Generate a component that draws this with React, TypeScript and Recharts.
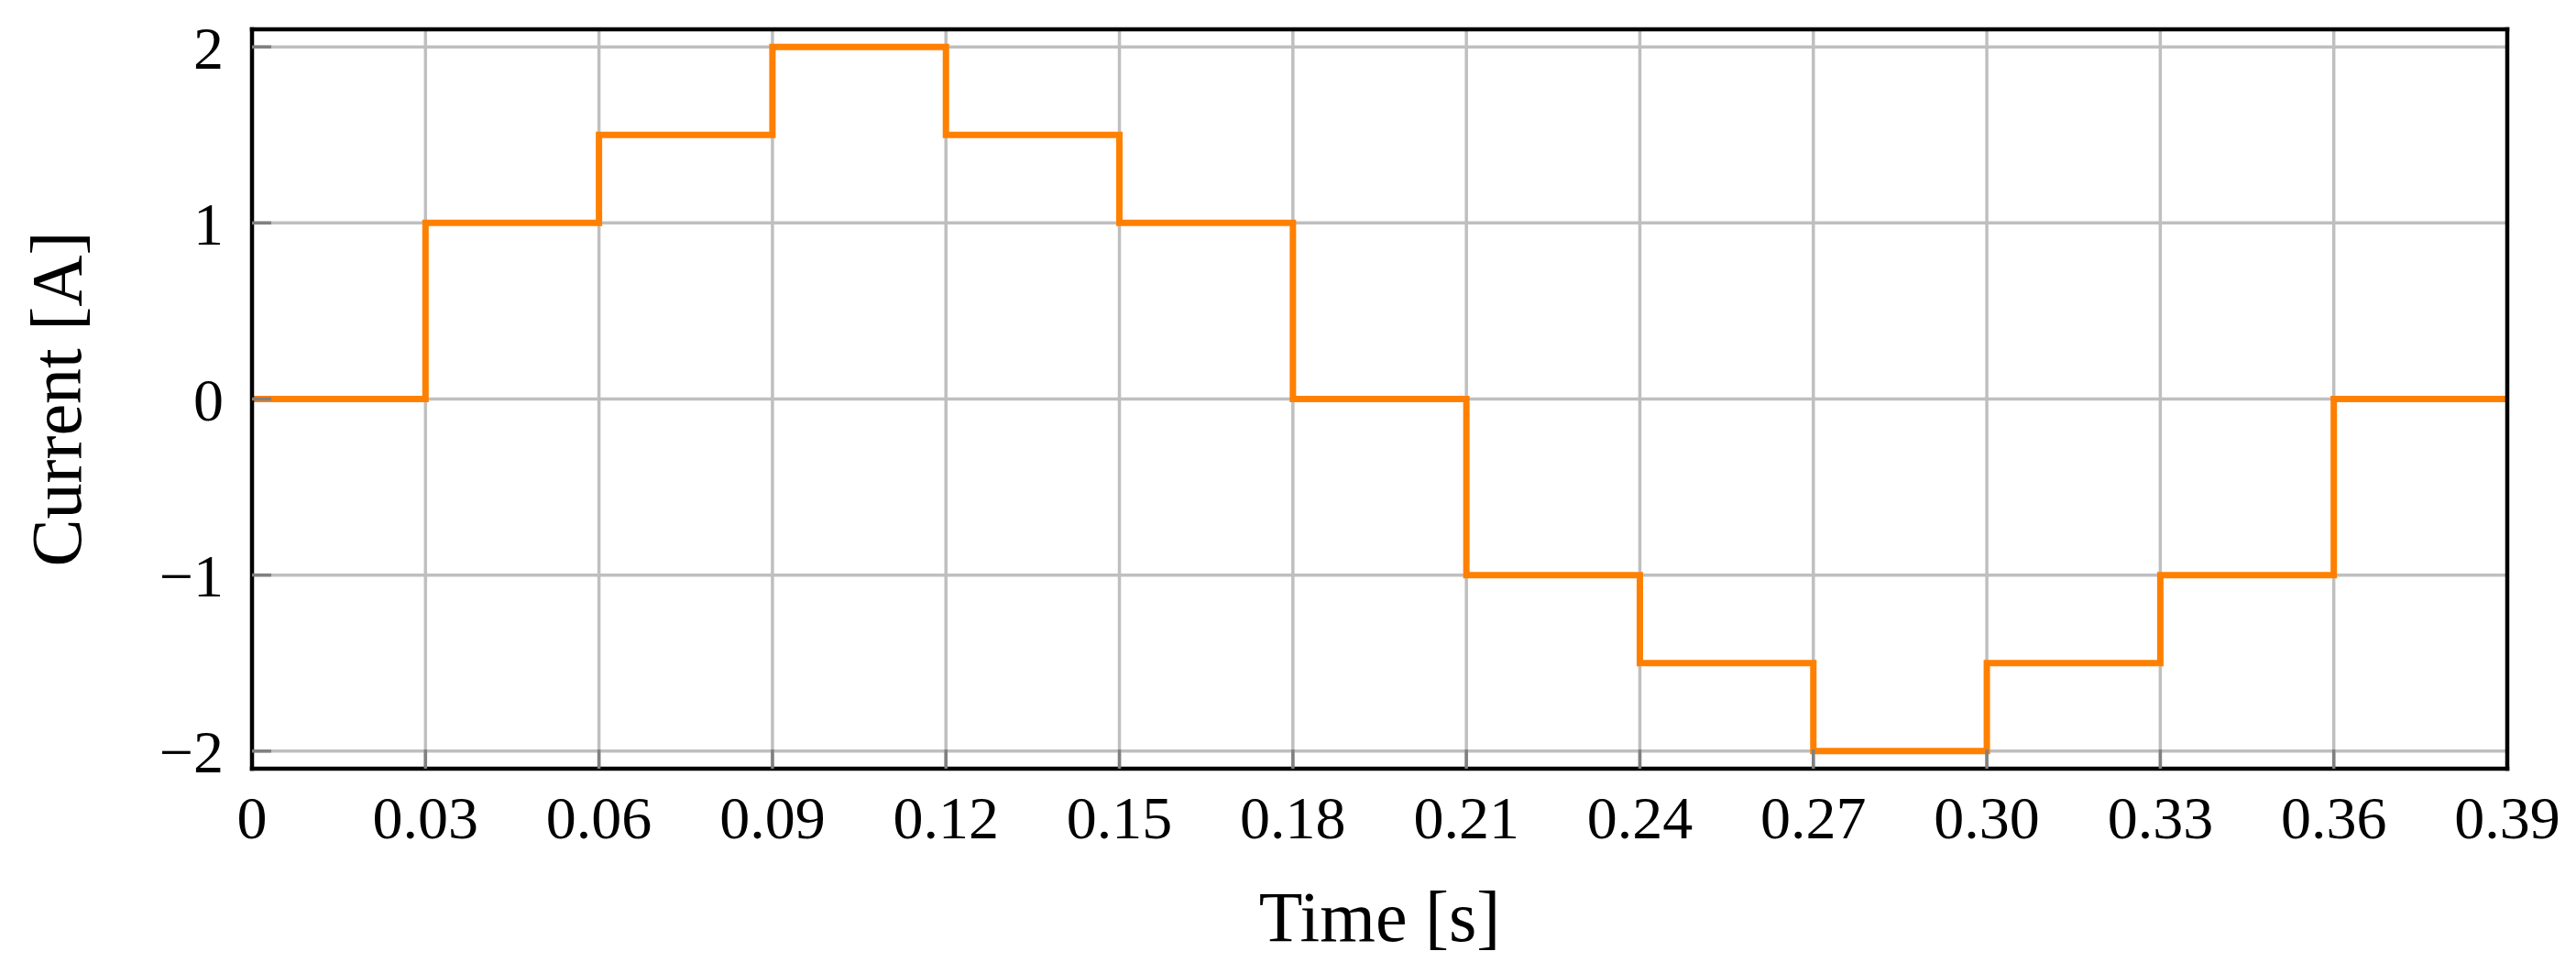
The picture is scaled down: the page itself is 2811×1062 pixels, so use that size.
import { LineChart, Line, XAxis, YAxis, CartesianGrid } from 'recharts';

// step current waveform, value holds from each time to the next
const times = [0, 0.03, 0.06, 0.09, 0.12, 0.15, 0.18, 0.21, 0.24, 0.27, 0.3, 0.33, 0.36, 0.39];
const currents = [0, 1, 1.5, 2, 1.5, 1, 0, -1, -1.5, -2, -1.5, -1, 0, 0];

const xTicks = [0, 0.03, 0.06, 0.09, 0.12, 0.15, 0.18, 0.21, 0.24, 0.27, 0.3, 0.33, 0.36, 0.39];
const xTickLabels = ['0', '0.03', '0.06', '0.09', '0.12', '0.15', '0.18', '0.21', '0.24', '0.27', '0.30', '0.33', '0.36', '0.39'];
const yTicks = [-2, -1, 0, 1, 2];
const yTickLabels = ['\u22122', '\u22121', '0', '1', '2'];

const W = 2811;
const H = 1062;
const FONT = "'Liberation Serif', 'DejaVu Serif', serif";

const frame = { stroke: '#000', strokeWidth: 4.5, strokeLinecap: 'square' as const };
const tickMark = { stroke: '#808080', strokeWidth: 3.5 };
const tickText = { fontSize: 66, fill: '#000', fontFamily: FONT };

export default function App() {
  const data = times.map((t, i) => ({ t, current: currents[i] }));

  const xLabel = (props: any) => {
    const vb = props?.viewBox || { x: 275, y: 839, width: 2461, height: 223 };
    return (
      <text x={vb.x + vb.width / 2} y={vb.y + vb.height - 35} textAnchor="middle"
        fontSize={78} fontFamily={FONT} fill="#000">
        Time [s]
      </text>
    );
  };

  const yLabel = (props: any) => {
    const vb = props?.viewBox || { x: 0, y: 32, width: 275, height: 807 };
    const cx = 61;
    const cy = vb.y + vb.height / 2;
    return (
      <text x={cx} y={cy} transform={`rotate(-90, ${cx}, ${cy})`} textAnchor="middle"
        dominantBaseline="central" fontSize={78} fontFamily={FONT} fill="#000">
        Current [A]
      </text>
    );
  };

  return (
    <div style={{ position: 'absolute', left: 0, top: 0, width: W, height: H, background: '#fff', fontFamily: FONT }}>
      <LineChart width={W} height={H} data={data} margin={{ top: 31, right: 74, bottom: 0, left: 0 }}>
        <CartesianGrid xAxisId="bottom" yAxisId="left" stroke="#bfbfbf" strokeWidth={3.5} />
        <Line
          xAxisId="bottom"
          yAxisId="left"
          type="stepAfter"
          dataKey="current"
          stroke="#ff8000"
          strokeWidth={7}
          strokeLinejoin="miter"
          strokeLinecap="butt"
          dot={false}
          activeDot={false}
          isAnimationActive={false}
        />
        <XAxis
          xAxisId="bottom"
          dataKey="t"
          type="number"
          domain={[0, 0.39]}
          ticks={xTicks}
          interval={0}
          allowDataOverflow
          height={223}
          axisLine={frame}
          tickLine={tickMark}
          tickSize={-21}
          tickMargin={50}
          tick={tickText}
          tickFormatter={(v: number) => xTickLabels[xTicks.indexOf(v)] ?? String(v)}
          label={xLabel}
        />
        <XAxis
          xAxisId="top"
          orientation="top"
          dataKey="t"
          type="number"
          domain={[0, 0.39]}
          ticks={xTicks}
          interval={0}
          allowDataOverflow
          height={1}
          axisLine={frame}
          tickLine={tickMark}
          tickSize={-21}
          tick={false}
        />
        <YAxis
          yAxisId="left"
          type="number"
          domain={[-2.1, 2.1]}
          ticks={yTicks}
          interval={0}
          allowDataOverflow
          width={275}
          axisLine={frame}
          tickLine={tickMark}
          tickSize={-21}
          tickMargin={52}
          tick={tickText}
          tickFormatter={(v: number) => yTickLabels[yTicks.indexOf(v)] ?? String(v)}
          label={yLabel}
        />
        <YAxis
          yAxisId="right"
          orientation="right"
          type="number"
          domain={[-2.1, 2.1]}
          ticks={yTicks}
          interval={0}
          allowDataOverflow
          width={1}
          axisLine={frame}
          tickLine={tickMark}
          tickSize={-21}
          tick={false}
        />
      </LineChart>
    </div>
  );
}
